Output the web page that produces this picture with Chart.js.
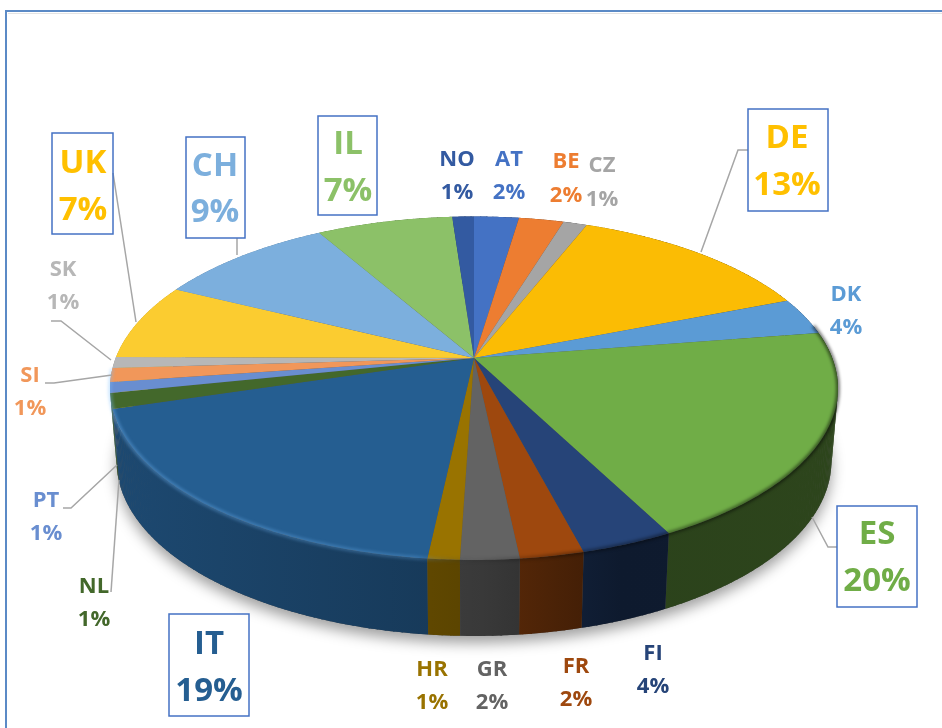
<!DOCTYPE html>
<html>
<head>
<meta charset="utf-8">
<title>Pie</title>
<script src="https://cdn.jsdelivr.net/npm/chart.js@4"></script>
<style>
  html, body { margin: 0; padding: 0; background: #fff; }
  canvas { display: block; }
</style>
</head>
<body>
<canvas id="pie" width="942" height="728"></canvas>
<script>
'use strict';

const categories = ['AT', 'BE', 'CZ', 'DE', 'DK', 'ES', 'FI', 'FR', 'GR', 'HR', 'IT', 'NL', 'PT', 'SI', 'SK', 'UK', 'CH', 'IL', 'NO'];
const shares = [2.36, 2.36, 1.25, 13.06, 3.5, 19.9, 3.5, 2.4, 2.2, 1.2, 18.6, 1.45, 1.0, 1.3, 1.05, 7.2, 9.4, 7.16, 1.14];
const percentLabels = ['2%', '2%', '1%', '13%', '4%', '20%', '4%', '2%', '2%', '1%', '19%', '1%', '1%', '1%', '1%', '7%', '9%', '7%', '1%'];
const sliceColors = ['#4472c4', '#ed7d31', '#a5a5a5', '#fbbc04', '#5b9bd5', '#70ad47', '#264478', '#9e480e', '#636363', '#997300', '#255e91', '#43682b', '#698ed0', '#f1975a', '#b7b7b7', '#fbcc30', '#7cafdd', '#8cc168', '#335aa1'];
const labelColors = ['#4472c4', '#ed7d31', '#a5a5a5', '#ffc000', '#5b9bd5', '#70ad47', '#264478', '#9e480e', '#636363', '#997300', '#255e91', '#43682b', '#698ed0', '#f1975a', '#b7b7b7', '#ffc000', '#7cafdd', '#8cc168', '#335aa1'];

// where each label sits: centre x, baseline of the name, baseline of the percent
const labelSpots = {
  NO: [457, 166, 199], AT: [509, 166, 199], BE: [566, 168, 202], CZ: [602, 172, 206],
  DK: [846, 301, 334], SK: [63, 276, 309], SI: [30, 382, 415], PT: [46, 507, 540],
  NL: [94, 593, 626], HR: [432, 676, 709], GR: [492, 676, 709], FR: [576, 673, 706],
  FI: [653, 660, 693],
  UK: [83, 173, 220], CH: [215, 176, 222], IL: [348, 154, 201], DE: [787, 148, 195],
  ES: [877, 544, 591], IT: [209, 654, 701]
};
// boxed labels: left, top, right, bottom
const boxes = {
  UK: [52, 133, 113, 234], CH: [186, 137, 245, 238], IL: [318, 116, 377, 215],
  DE: [748, 109, 828, 211], ES: [837, 506, 917, 607], IT: [169, 614, 249, 716]
};
const leaders = [
  [[113, 173], [136, 322]],
  [[237, 238], [237, 255]],
  [[51, 321], [61, 321], [111, 360]],
  [[748, 150], [738, 150], [701, 252]],
  [[837, 547], [828, 547], [812, 517]],
  [[45, 383], [54, 383], [112, 375]],
  [[63, 508], [71, 508], [117, 465]],
  [[111, 592], [119, 480]]
];

// camera for the tilted disc, apex of the pie ends up at (474, 358)
const apexX = 474, apexY = 358, spanX = 358.3, spanY = 166.4, tilt = 0.176;
// how much of the slice colour is left on the side wall, left to right
const wallStops = [[0, 0.78], [0.44, 0.62], [0.51, 0.58], [0.6, 0.48], [0.7, 0.38], [1, 0.4]];

function project(u, v, bottom) {
  const w = 1 - tilt * v;
  let x = spanX * u / w, y = spanY * v / w;
  if (bottom) {
    x *= 0.982;
    y += 72 + 4 * v;
  }
  return [apexX + x, apexY + y];
}

// hands the arc element a context that bends its path onto the disc
function discContext(ctx, el) {
  const cx = el.x, cy = el.y, R = el.outerRadius;
  const put = (px, py, first) => {
    const p = project((px - cx) / R, (py - cy) / R, false);
    if (first) ctx.moveTo(p[0], p[1]); else ctx.lineTo(p[0], p[1]);
  };
  return new Proxy(ctx, {
    get(target, prop) {
      if (prop === 'arc') {
        return (x, y, r, a0, a1) => {
          if (!r) { put(x, y); return; }
          const steps = Math.max(2, Math.ceil(Math.abs(a1 - a0) / 0.01));
          for (let i = 0; i <= steps; i++) {
            const a = a0 + (a1 - a0) * i / steps;
            put(x + r * Math.cos(a), y + r * Math.sin(a));
          }
        };
      }
      if (prop === 'lineTo') return (x, y) => put(x, y);
      if (prop === 'moveTo') return (x, y) => put(x, y, true);
      const v = target[prop];
      return typeof v === 'function' ? v.bind(target) : v;
    },
    set(target, prop, value) {
      target[prop] = value;
      return true;
    }
  });
}

function traceRim(ctx, a0, a1, bottom) {
  const steps = Math.max(2, Math.ceil(Math.abs(a1 - a0) / 0.01));
  for (let i = 0; i <= steps; i++) {
    const a = a0 + (a1 - a0) * i / steps;
    const p = project(Math.cos(a), Math.sin(a), bottom);
    ctx.lineTo(p[0], p[1]);
  }
}

function wallGradient(ctx, hex) {
  const rgb = [1, 3, 5].map((i) => parseInt(hex.slice(i, i + 2), 16));
  const grad = ctx.createLinearGradient(110, 0, 840, 0);
  wallStops.forEach((s) => {
    grad.addColorStop(s[0], 'rgb(' + rgb.map((c) => Math.round(c * s[1])).join(',') + ')');
  });
  return grad;
}

const pie3d = {
  id: 'pie3d',
  beforeDatasetsDraw(chart) {
    const ctx = chart.ctx;
    const arcs = chart.getDatasetMeta(0).data;

    // soft shadow under the body
    ctx.save();
    ctx.shadowColor = 'rgba(0,0,0,0.38)';
    ctx.shadowBlur = 14;
    ctx.shadowOffsetY = 7;
    ctx.fillStyle = '#555';
    ctx.beginPath();
    traceRim(ctx, 0, Math.PI * 2, true);
    ctx.closePath();
    ctx.fill();
    ctx.restore();

    // side wall, far slices first; small quads so the silhouette stays filled
    const mid = (el) => Math.sin((el.startAngle + el.endAngle) / 2);
    const order = arcs.map((a, i) => i).sort((a, b) => mid(arcs[a]) - mid(arcs[b]));
    order.forEach((i) => {
      const el = arcs[i];
      ctx.fillStyle = wallGradient(ctx, sliceColors[i]);
      const step = 0.02;
      for (let a = el.startAngle; a < el.endAngle; a += step) {
        const next = Math.min(a + step + 0.004, el.endAngle);
        ctx.beginPath();
        traceRim(ctx, a, next, false);
        traceRim(ctx, next, a, true);
        ctx.closePath();
        ctx.fill();
      }
    });

    // top face, the library's arcs bent onto the disc
    arcs.forEach((el) => el.draw(discContext(ctx, el)));

    // bevel along the front rim
    const bevel = ctx.createLinearGradient(110, 0, 840, 0);
    bevel.addColorStop(0, 'rgba(120,190,255,0.34)');
    bevel.addColorStop(0.42, 'rgba(120,190,255,0.24)');
    bevel.addColorStop(0.5, 'rgba(0,0,0,0.05)');
    bevel.addColorStop(0.62, 'rgba(0,0,0,0.3)');
    bevel.addColorStop(1, 'rgba(0,0,0,0.5)');
    ctx.save();
    ctx.filter = 'blur(1.5px)';
    ctx.strokeStyle = bevel;
    ctx.lineWidth = 4;
    ctx.beginPath();
    traceRim(ctx, -0.2, Math.PI * 0.98, false);
    ctx.stroke();
    ctx.restore();

    return false;
  },
  afterDraw(chart) {
    const ctx = chart.ctx;
    ctx.save();

    // frame of the pasted picture
    ctx.strokeStyle = '#e4e4e4';
    ctx.lineWidth = 1;
    ctx.beginPath();
    ctx.moveTo(8, 13.5);
    ctx.lineTo(942, 13.5);
    ctx.stroke();
    ctx.strokeStyle = '#5b8ac6';
    ctx.lineWidth = 2;
    ctx.beginPath();
    ctx.moveTo(6, 728);
    ctx.lineTo(6, 11);
    ctx.lineTo(942, 11);
    ctx.stroke();

    ctx.strokeStyle = '#a6a6a6';
    ctx.lineWidth = 1.5;
    leaders.forEach((pts) => {
      ctx.beginPath();
      pts.forEach((p) => ctx.lineTo(p[0], p[1]));
      ctx.stroke();
    });

    ctx.textAlign = 'center';
    ctx.textBaseline = 'alphabetic';
    categories.forEach((name, i) => {
      const spot = labelSpots[name];
      const box = boxes[name];
      if (box) {
        ctx.strokeStyle = '#4472c4';
        ctx.lineWidth = 1.5;
        ctx.strokeRect(box[0], box[1], box[2] - box[0], box[3] - box[1]);
      }
      ctx.font = 'bold ' + (box ? 33 : 22) + 'px "Open Sans"';
      ctx.fillStyle = labelColors[i];
      ctx.fillText(name, spot[0], spot[1]);
      ctx.fillText(percentLabels[i], spot[0], spot[2]);
    });
    ctx.restore();
  }
};

new Chart(document.querySelector('#pie'), {
  type: 'pie',
  data: {
    labels: categories,
    datasets: [
      {
        data: shares,
        backgroundColor: sliceColors,
        borderWidth: 0,
      }
    ]
  },
  options: {
    responsive: false,
    animation: false,
    rotation: 0,
    plugins: {
      legend: { display: false },
      tooltip: { enabled: false },
    },
  },
  plugins: [pie3d],
});
</script>
</body>
</html>
